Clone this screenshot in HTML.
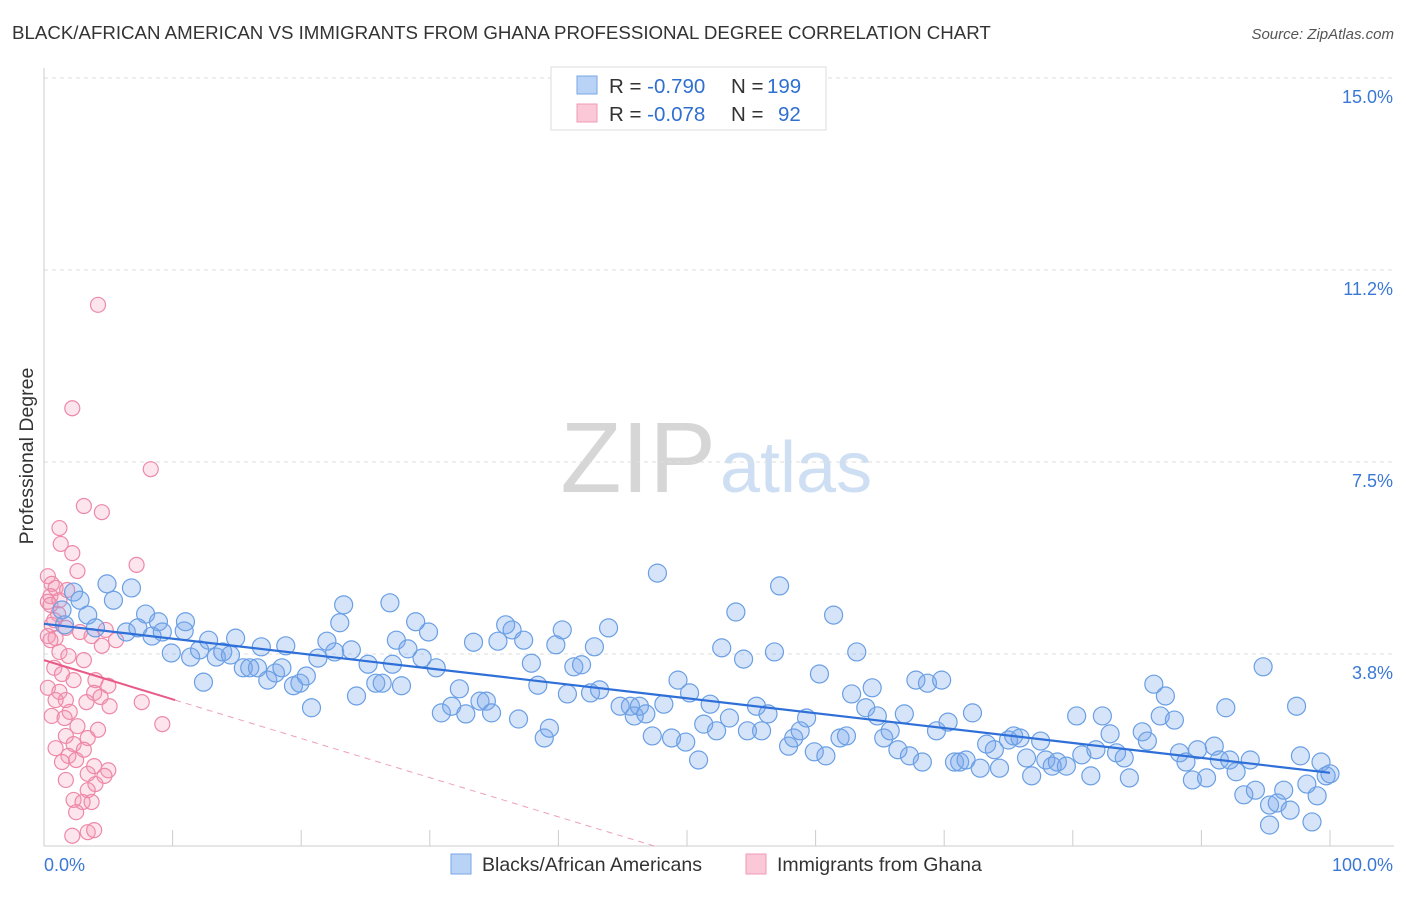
<!DOCTYPE html>
<html><head><meta charset="utf-8"><style>
body{margin:0;background:#fff;font-family:"Liberation Sans",sans-serif;}
svg text{font-family:"Liberation Sans",sans-serif;}
</style></head><body>
<svg id="chart" width="1406" height="892">
<text x="12" y="39" font-size="18.7" fill="#333">BLACK/AFRICAN AMERICAN VS IMMIGRANTS FROM GHANA PROFESSIONAL DEGREE CORRELATION CHART</text>
<text x="1394" y="39" font-size="15" fill="#555" font-style="italic" text-anchor="end">Source: ZipAtlas.com</text>
<text x="716" y="492" font-size="100" fill="#d6d6d6" text-anchor="end" font-family="Liberation Serif">ZIP</text>
<text x="720" y="492" font-size="72" fill="#cfdff3">atlas</text>
<text transform="translate(33,456) rotate(-90)" font-size="19.5" fill="#333" text-anchor="middle">Professional Degree</text>
<g id="grid"></g><g id="axes"></g><g id="marks"></g>
<g>
<rect x="551" y="67" width="275" height="63" fill="#fff" stroke="#ddd"/>
<rect x="577" y="76" width="20" height="18" fill="#b8d3f5" stroke="#7aa6e6"/>
<rect x="577" y="104" width="20" height="18" fill="#fac8d6" stroke="#f09ab4"/>
<text x="609" y="93" font-size="20.5" fill="#333">R = <tspan fill="#2f6fd0">-0.790</tspan><tspan x="731">N = </tspan><tspan fill="#2f6fd0" x="767">199</tspan></text>
<text x="609" y="121" font-size="20.5" fill="#333">R = <tspan fill="#2f6fd0">-0.078</tspan><tspan x="731">N = </tspan><tspan fill="#2f6fd0" x="778">92</tspan></text>
</g>
<g>
<rect x="451" y="854" width="20" height="20" fill="#b8d3f5" stroke="#7aa6e6"/>
<text x="482" y="871" font-size="19.5" fill="#333">Blacks/African Americans</text>
<rect x="746" y="854" width="20" height="20" fill="#fac8d6" stroke="#f09ab4"/>
<text x="777" y="871" font-size="19.5" fill="#333">Immigrants from Ghana</text>
</g>
</svg>
<script>
const yTicks=[3.75,7.5,11.25,15];
const yTickLabels=["3.8%","7.5%","11.2%","15.0%"];
const xTickLabels=["0.0%","100.0%"];
const blueX=[4.9,2.3,2.8,5.4,1.4,3.4,6.8,7.9,8.9,11.0,1.6,4.0,6.4,8.4,7.3,9.2,10.9,12.8,14.9,9.9,11.4,12.1,13.4,13.9,14.5,12.4,15.5,16.0,16.6,16.9,18.8,17.4,18.0,18.5,19.4,19.9,20.4,20.8,21.3,22.0,22.6,23.0,23.3,23.9,24.3,25.2,25.8,26.3,27.1,26.9,27.4,27.8,28.3,28.9,29.4,29.9,30.5,30.9,31.7,32.3,32.8,33.4,33.9,34.4,34.8,35.3,35.9,36.4,36.9,37.3,37.9,38.4,38.9,39.3,39.8,40.3,40.7,41.2,41.8,42.5,42.8,43.2,43.9,44.8,45.6,45.9,46.3,46.8,47.3,47.7,48.2,48.8,49.3,49.9,50.2,50.9,51.3,51.8,52.3,52.7,53.3,53.8,54.4,54.7,55.4,55.8,56.3,56.8,57.2,57.9,58.3,58.8,59.3,59.9,60.3,60.8,61.4,61.9,62.4,62.8,63.2,63.9,64.4,64.8,65.3,65.8,66.4,66.9,67.3,67.8,68.3,68.7,69.4,69.8,70.3,70.8,71.2,71.7,72.2,72.8,73.3,73.9,74.3,75.0,75.4,75.9,76.4,76.8,77.5,77.9,78.4,78.8,79.5,80.3,80.7,81.4,81.8,82.3,82.9,83.4,84.0,84.4,85.4,85.8,86.3,86.8,87.2,87.9,88.3,88.8,89.3,89.7,90.4,91.0,91.4,91.9,92.2,92.7,93.3,93.8,94.2,94.8,95.3,95.9,96.4,96.9,97.4,97.7,98.2,98.6,99.0,99.3,99.7,100,95.3];
const blueY=[5.12,4.96,4.80,4.80,4.61,4.51,5.04,4.53,4.38,4.38,4.32,4.26,4.18,4.10,4.26,4.18,4.20,4.02,4.06,3.77,3.69,3.83,3.69,3.79,3.73,3.20,3.48,3.48,3.48,3.89,3.91,3.24,3.38,3.48,3.13,3.18,3.32,2.70,3.67,4.00,3.79,4.36,4.71,3.83,2.93,3.55,3.18,3.18,3.55,4.75,4.02,3.13,3.85,4.38,3.67,4.18,3.48,2.60,2.73,3.07,2.58,3.98,2.83,2.83,2.60,4.00,4.32,4.22,2.48,4.02,3.57,3.14,2.11,2.30,3.93,4.22,2.97,3.50,3.54,2.99,3.89,3.05,4.26,2.73,2.73,2.54,2.73,2.58,2.15,5.33,2.77,2.11,3.24,2.03,2.99,1.68,2.38,2.77,2.25,3.87,2.50,4.57,3.65,2.25,2.73,2.25,2.58,3.79,5.08,1.95,2.11,2.25,2.50,1.84,3.36,1.76,4.51,2.11,2.15,2.97,3.79,2.70,3.09,2.54,2.11,2.25,1.88,2.58,1.76,3.24,1.64,3.18,2.25,3.24,2.42,1.64,1.64,1.68,2.60,1.52,1.99,1.88,1.52,2.07,2.15,2.11,1.72,1.37,2.05,1.68,1.56,1.64,1.56,2.54,1.78,1.37,1.88,2.54,2.19,1.82,1.72,1.33,2.23,2.05,3.16,2.54,2.93,2.46,1.82,1.64,1.29,1.88,1.33,1.95,1.68,2.70,1.68,1.45,1.00,1.68,1.09,3.50,0.80,0.84,1.09,0.70,2.73,1.76,1.21,0.47,0.98,1.64,1.37,1.41,0.41];
const pinkX=[4.2,2.2,8.3,3.1,4.5,1.2,1.3,2.2,7.2,2.6,0.3,0.6,0.9,0.5,0.3,1.1,0.6,1.7,2.8,0.3,0.9,4.8,3.7,4.5,1.2,1.9,3.1,0.8,1.4,2.3,4.0,5.0,0.3,1.2,3.9,4.4,1.7,3.3,5.1,7.6,2.0,0.6,1.6,2.6,4.2,9.2,1.7,3.4,2.3,0.9,3.1,1.9,1.4,3.9,5.0,3.4,4.7,1.7,4.0,2.3,3.0,3.7,2.5,2.2,3.4,3.9,0.5,0.8,0.5,0.9,2.5,3.4,5.6,1.2,1.8];
const pinkY=[10.57,8.55,7.36,6.64,6.52,6.21,5.90,5.72,5.49,5.37,5.27,5.12,5.04,4.88,4.77,4.53,4.32,4.26,4.18,4.10,4.06,4.22,4.10,3.91,3.79,3.71,3.63,3.48,3.36,3.24,3.24,3.13,3.09,3.01,2.99,2.91,2.85,2.81,2.73,2.81,2.62,2.54,2.50,2.34,2.27,2.38,2.15,2.11,1.99,1.91,1.88,1.76,1.64,1.56,1.48,1.41,1.37,1.29,1.21,0.90,0.86,0.86,0.66,0.20,0.27,0.31,4.02,4.41,4.71,2.85,1.68,1.09,4.02,4.80,5.00];
const blueTrend=[4.34,1.43];
const pinkTrend=[3.63,-0.0765];
const pinkSolidEnd=10.2;
const X=v=>44+v*12.86, Y=v=>846-v*51.2;
const NS="http://www.w3.org/2000/svg";
function mk(tag,parent,attrs){const e=document.createElementNS(NS,tag);for(const k in attrs)e.setAttribute(k,attrs[k]);document.getElementById(parent).appendChild(e);return e;}
yTicks.forEach((t,i)=>{
 const g=mk('line','grid',{x1:44,x2:1394,y1:Y(t),y2:Y(t),stroke:'#ddd','stroke-dasharray':'4,4'});
 
 
 const l=mk('text','axes',{x:1393,y:Y(t)+25,'font-size':18,fill:'#3a78d6','text-anchor':'end'});
 l.textContent=yTickLabels[i];
 
 
});
const ya=mk('line','axes',{x1:44,x2:44,y1:68,y2:846,stroke:'#ccc'});


const xa=mk('line','axes',{x1:44,x2:1394,y1:846,y2:846,stroke:'#ccc'});


for(let i=0;i<=10;i++){const t=mk('line','axes',{x1:X(i*10),x2:X(i*10),y1:830,y2:846,stroke:'#ccc'});
 
 }
[[44,'start'],[1393,'end']].forEach(([x,a],i)=>{const l=mk('text','axes',{x:x,y:871,'font-size':18,fill:'#3a78d6','text-anchor':a});l.textContent=xTickLabels[i];
 
 });
pinkX.forEach((x,i)=>{const c=mk('circle','marks',{cx:X(x),cy:Y(pinkY[i]),r:7.5,fill:'rgba(244,150,178,0.25)',stroke:'#ee88a8','stroke-width':1.2});
 
 });
blueX.forEach((x,i)=>{const c=mk('circle','marks',{cx:X(x),cy:Y(blueY[i]),r:9,fill:'rgba(120,165,235,0.3)',stroke:'#6a9fe4','stroke-width':1.2});
 
 });
const bt=mk('line','marks',{x1:X(0),y1:Y(blueTrend[0]),x2:X(100),y2:Y(blueTrend[1]),stroke:'#2f6fd8','stroke-width':2.2});


const p0=pinkTrend[0],ps=pinkTrend[1],xz=-p0/ps;
const pt=mk('line','marks',{x1:X(0),y1:Y(p0),x2:X(pinkSolidEnd),y2:Y(p0+ps*pinkSolidEnd),stroke:'#e85a88','stroke-width':2});


const pd=mk('line','marks',{x1:X(pinkSolidEnd),y1:Y(p0+ps*pinkSolidEnd),x2:X(xz),y2:Y(0),stroke:'#eea0b8','stroke-width':1,'stroke-dasharray':'6,5'});


</script>
</body></html>
